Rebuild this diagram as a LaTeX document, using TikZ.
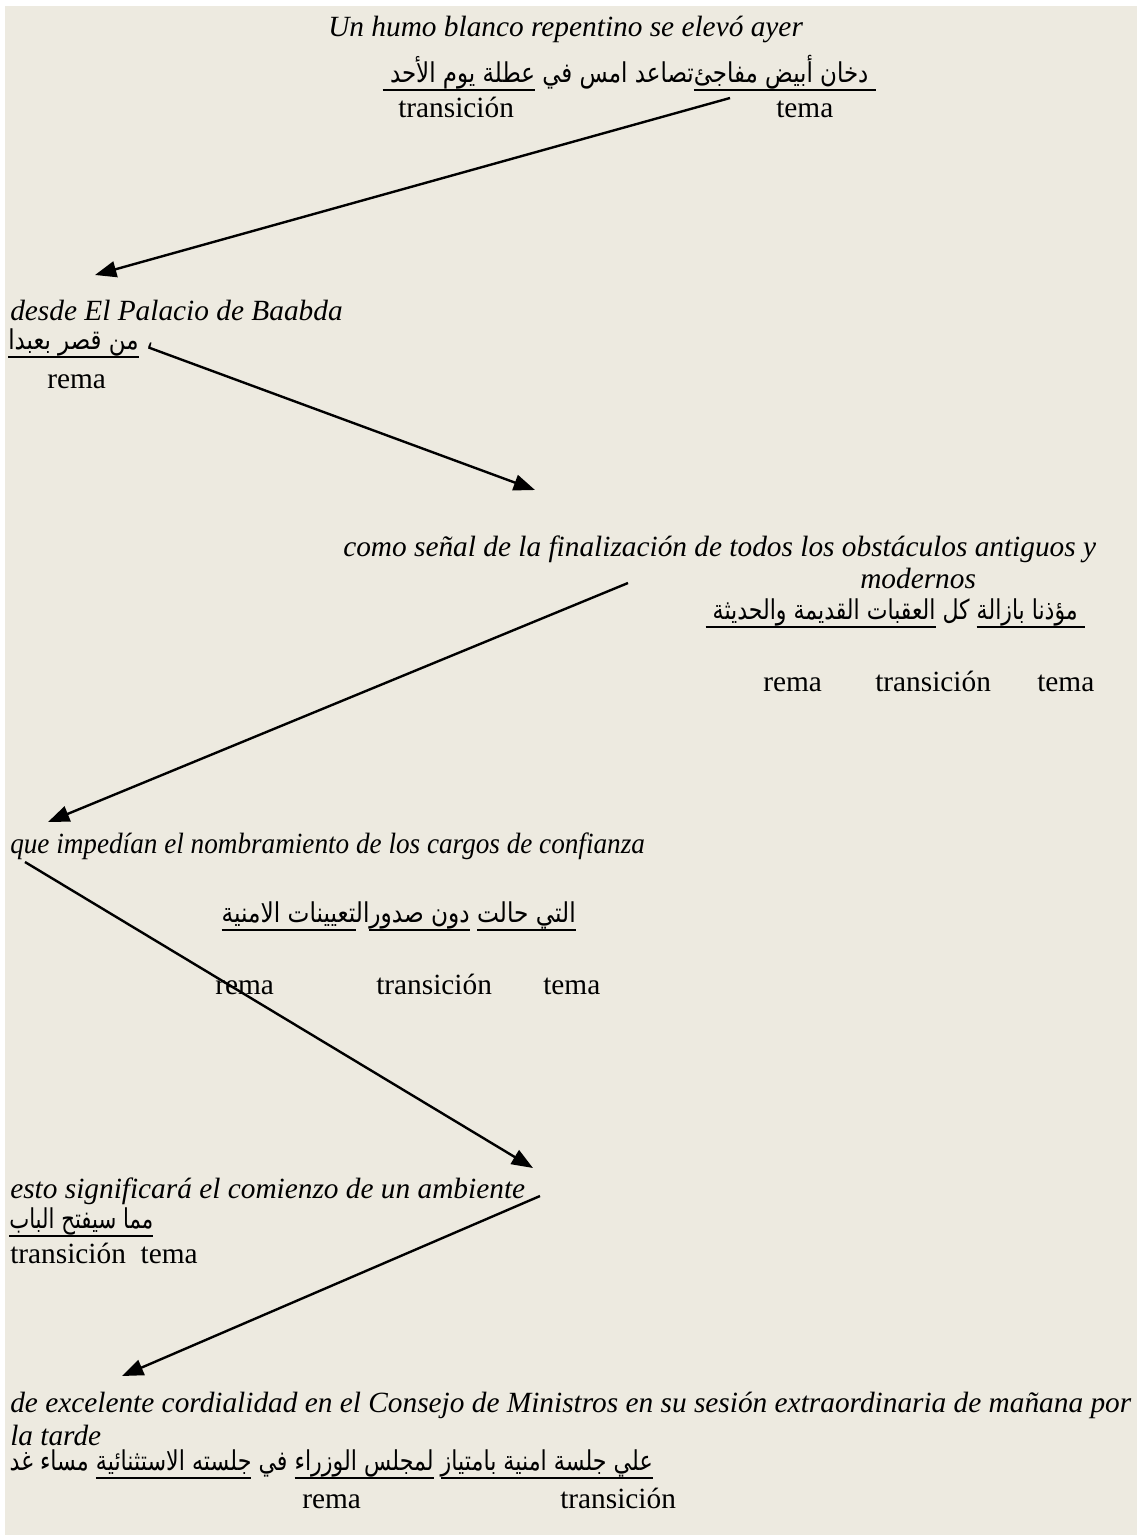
\documentclass[tikz,border=0pt]{standalone}
\usepackage{fontspec}
\setmainfont{Liberation Serif}
\newfontfamily\arabicfont[Script=Arabic]{DejaVu Sans}
\TeXXeTstate=1
\usetikzlibrary{arrows.meta}
\usetikzlibrary{positioning}
\definecolor{paper}{RGB}{237,234,224}
\tikzstyle{spanish} = [font=\fontsize{22}{26}\selectfont\itshape, inner sep=0pt, anchor=base west]
\tikzstyle{arabic} = [font=\fontsize{20.5}{24}\selectfont\arabicfont, inner sep=0pt]
\tikzstyle{role} = [font=\fontsize{22}{26}\selectfont, inner sep=0pt, anchor=base west]
\tikzstyle{line} = [draw, line width=1.8pt, -{Triangle[length=16pt,width=12pt]}]
% underline one Arabic run at a fixed depth
\newcommand{\arul}[1]{\setbox0=\hbox{\beginR#1\endR}\dp0=0pt\vtop{\box0\kern5.5pt\hrule height 1.4pt}}
% one line, brought to the width it has in the page
\newcommand{\fitline}[2]{\resizebox{#1}{\height}{#2}}

\begin{document}
\begin{tikzpicture}[x=0.75pt, y=-0.75pt]
  \useasboundingbox (0,0) rectangle (1137,1535);
  \fill [paper] (5,6) rectangle (1137,1535);

  % Place nodes
  \node [spanish] (es1) at (328,36) {Un humo blanco repentino se elevó ayer};
  \node [arabic, anchor=base east] (ar1) at (876,82)
    {\fitline{369.75pt}{\beginR\arul{\ دخان أبيض مفاجئ}تصاعد امس في \arul{عطلة يوم الأحد\ }\endR}};
  \node [role] (tran1) at (398,117) {transición};
  \node [role] (tema1) at (776,117) {tema};

  \node [spanish] (es2) at (10,320) {desde El Palacio de Baabda};
  \node [arabic, anchor=base west] (ar2) at (8,349)
    {\fitline{108.75pt}{\beginR، \arul{من قصر بعبدا}\endR}};
  \node [role] (rema2) at (47,388) {rema};

  \node [spanish] (es3) at (343,556) {como señal de la finalización de todos los obstáculos antiguos y};
  \node [spanish] (es3b) at (860,588) {modernos};
  \node [arabic, anchor=base east] (ar3) at (1085,619)
    {\fitline{284.25pt}{\beginR\arul{\ مؤذنا بازالة} كل \arul{العقبات القديمة والحديثة\ }\endR}};
  \node [role] (rema3) at (763,691) {rema};
  \node [role] (tran3) at (875,691) {transición};
  \node [role] (tema3) at (1037,691) {tema};

  \node [spanish] (es4) at (10,853)
    {\fitline{476pt}{que impedían el nombramiento de los cargos de confianza}};
  \node [arabic, anchor=base east] (ar4) at (576,922)
    {\fitline{265.5pt}{\beginR\arul{التي حالت} \arul{دون صدور}ال^^^^200d\arul{^^^^200dتعيينات الامنية}\endR}};
  \node [role] (rema4) at (215,994) {rema};
  \node [role] (tran4) at (376,994) {transición};
  \node [role] (tema4) at (543,994) {tema};

  \node [spanish] (es5) at (10,1198) {esto significará el comienzo de un ambiente};
  \node [arabic, anchor=base west] (ar5) at (9,1228)
    {\fitline{108pt}{\beginR\arul{مما سيفتح الباب}\endR}};
  \node [role] (tran5) at (10,1263) {transición\ \ tema};

  \node [spanish] (es6) at (10,1412) {de excelente cordialidad en el Consejo de Ministros en su sesión extraordinaria de mañana por};
  \node [spanish] (es6b) at (10,1445) {la tarde};
  \node [arabic, anchor=base east] (ar6) at (653,1470)
    {\fitline{482.25pt}{\beginR\arul{علي جلسة امنية بامتياز} \arul{لمجلس الوزراء} في \arul{جلسته الاستثنائية} مساء غد\endR}};
  \node [role] (rema6) at (302,1508) {rema};
  \node [role] (tran6) at (560,1508) {transición};

  % Arrow ends
  \coordinate (a1) at (730,98);
  \coordinate (b1) at (95,275);
  \coordinate (a2) at (150,348);
  \coordinate (b2) at (535,490);
  \coordinate (a3) at (628,583);
  \coordinate (b3) at (48,822);
  \coordinate (a4) at (25,862);
  \coordinate (b4) at (533,1168);
  \coordinate (a5) at (540,1196);
  \coordinate (b5) at (122,1376);

  % Draw arrows
  \path [line] (a1) -- (b1);
  \path [line] (a2) -- (b2);
  \path [line] (a3) -- (b3);
  \path [line] (a4) -- (b4);
  \path [line] (a5) -- (b5);
\end{tikzpicture}
\end{document}
